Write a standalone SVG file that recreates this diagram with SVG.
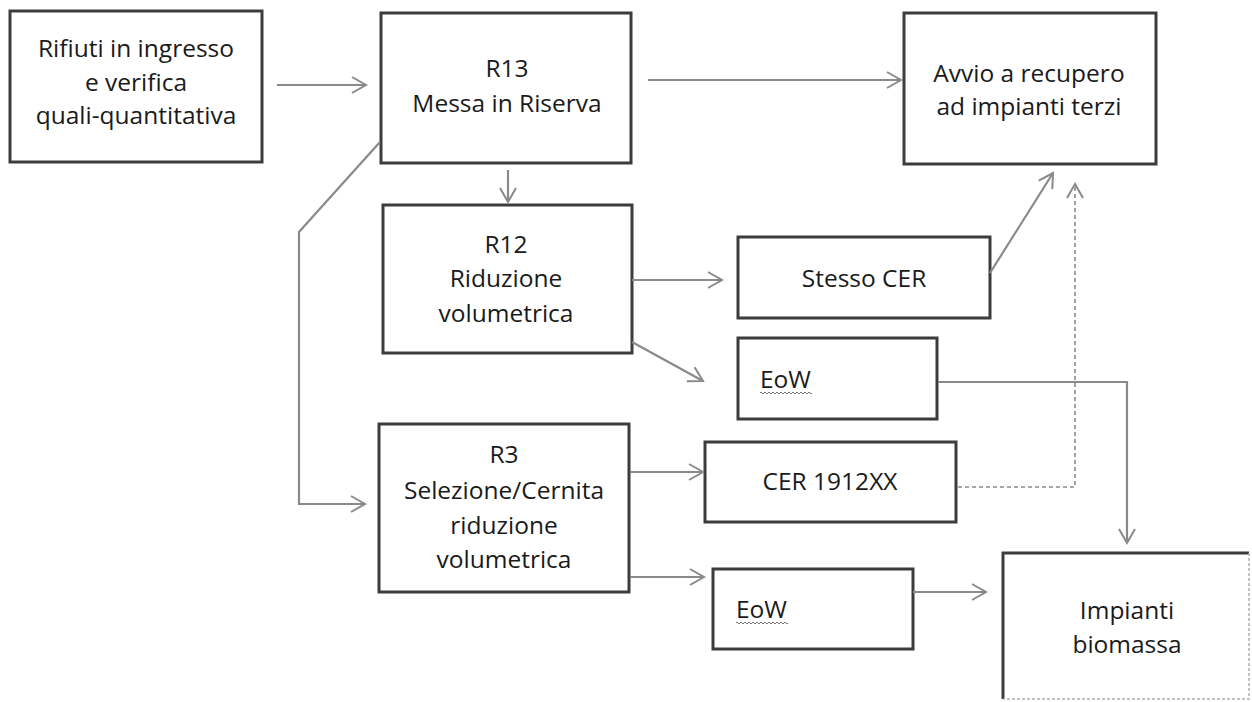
<svg xmlns="http://www.w3.org/2000/svg" width="1252" height="702" viewBox="0 0 1252 702">
<style>
.box{fill:#fff;stroke:#3c3c3c;stroke-width:3}
.t{font-family:"Open Sans","Liberation Sans",sans-serif;font-size:24.5px;fill:#1a1a1a;text-anchor:middle}
.tl{font-family:"Open Sans","Liberation Sans",sans-serif;font-size:24.5px;fill:#1a1a1a}
.c{fill:none;stroke:#8a8a8a;stroke-width:2.2}
.d{fill:none;stroke:#8a8a8a;stroke-width:1.6;stroke-dasharray:4 3}
.w{fill:none;stroke:#777;stroke-width:1}
</style>
<defs>
<marker id="ah" viewBox="-15 -10 17 20" refX="0" refY="0" markerWidth="17" markerHeight="20" markerUnits="userSpaceOnUse" orient="auto">
<path d="M-14,-8 L0,0 L-14,8" fill="none" stroke="#8a8a8a" stroke-width="2"/>
</marker>
</defs>
<rect width="1252" height="702" fill="#fff"/>
<g id="n_rifiuti">
<rect class="box" x="10" y="11" width="252" height="151"/>
<text class="t" x="136" y="57">Rifiuti in ingresso</text>
<text class="t" x="136" y="91">e verifica</text>
<text class="t" x="136" y="124">quali-quantitativa</text>
</g>
<g id="n_r13">
<rect class="box" x="381" y="13" width="250" height="150"/>
<text class="t" x="507" y="77">R13</text>
<text class="t" x="507" y="112">Messa in Riserva</text>
</g>
<g id="n_avvio">
<rect class="box" x="904" y="13" width="252" height="151"/>
<text class="t" x="1029" y="82">Avvio a recupero</text>
<text class="t" x="1029" y="115">ad impianti terzi</text>
</g>
<g id="n_r12">
<rect class="box" x="383" y="205" width="249" height="148"/>
<text class="t" x="506" y="253">R12</text>
<text class="t" x="506" y="287">Riduzione</text>
<text class="t" x="506" y="322">volumetrica</text>
</g>
<g id="n_stesso">
<rect class="box" x="738" y="237" width="252" height="81"/>
<text class="t" x="864" y="287">Stesso CER</text>
</g>
<g id="n_eow1">
<rect class="box" x="738" y="338" width="199" height="81"/>
<text class="tl" x="760" y="388">EoW</text>
<path class="w" d="M760,393 q1,-2 2,0 t2,0 t2,0 t2,0 t2,0 t2,0 t2,0 t2,0 t2,0 t2,0 t2,0 t2,0 t2,0 t2,0 t2,0 t2,0 t2,0 t2,0 t2,0 t2,0 t2,0 t2,0 t2,0 t2,0 t2,0 t2,0"/>
</g>
<g id="n_r3">
<rect class="box" x="379" y="424" width="250" height="168"/>
<text class="t" x="504" y="463">R3</text>
<text class="t" x="504" y="499">Selezione/Cernita</text>
<text class="t" x="504" y="534">riduzione</text>
<text class="t" x="504" y="568">volumetrica</text>
</g>
<g id="n_cer1912">
<rect class="box" x="705" y="442" width="251" height="80"/>
<text class="t" x="830" y="490">CER 1912XX</text>
</g>
<g id="n_eow2">
<rect class="box" x="713" y="569" width="200" height="80"/>
<text class="tl" x="736" y="618">EoW</text>
<path class="w" d="M736,623 q1,-2 2,0 t2,0 t2,0 t2,0 t2,0 t2,0 t2,0 t2,0 t2,0 t2,0 t2,0 t2,0 t2,0 t2,0 t2,0 t2,0 t2,0 t2,0 t2,0 t2,0 t2,0 t2,0 t2,0 t2,0 t2,0 t2,0"/>
</g>
<g id="n_biomassa">
<rect x="1003" y="553" width="246" height="146" fill="#fff" stroke="none"/>
<path d="M1003,699 L1003,553 L1249,553" fill="none" stroke="#3c3c3c" stroke-width="3"/>
<path d="M1249,553 L1249,699 L1003,699" fill="none" stroke="#b0b0b0" stroke-width="1.5" stroke-dasharray="3 2"/>
<text class="t" x="1127" y="619">Impianti</text>
<text class="t" x="1127" y="653">biomassa</text>
</g>
<g id="connectors">
<path class="c" d="M277,85 L366,85" marker-end="url(#ah)"/>
<path class="c" d="M648,80 L901,80" marker-end="url(#ah)"/>
<path class="c" d="M508,170 L508,202" marker-end="url(#ah)"/>
<path class="c" d="M380,142 L299,232 L299,504 L365,504" marker-end="url(#ah)"/>
<path class="c" d="M632,280 L722,280" marker-end="url(#ah)"/>
<path class="c" d="M632,342 L703,381" marker-end="url(#ah)"/>
<path class="c" d="M990,273 L1053,173" marker-end="url(#ah)"/>
<path class="d" d="M958,487 L1075,487 L1075,184" marker-end="url(#ah)"/>
<path class="c" d="M938,382 L1127,382 L1127,543" marker-end="url(#ah)"/>
<path class="c" d="M630,472 L703,472" marker-end="url(#ah)"/>
<path class="c" d="M630,577 L704,577" marker-end="url(#ah)"/>
<path class="c" d="M913,592 L986,592" marker-end="url(#ah)"/>
</g>
</svg>
